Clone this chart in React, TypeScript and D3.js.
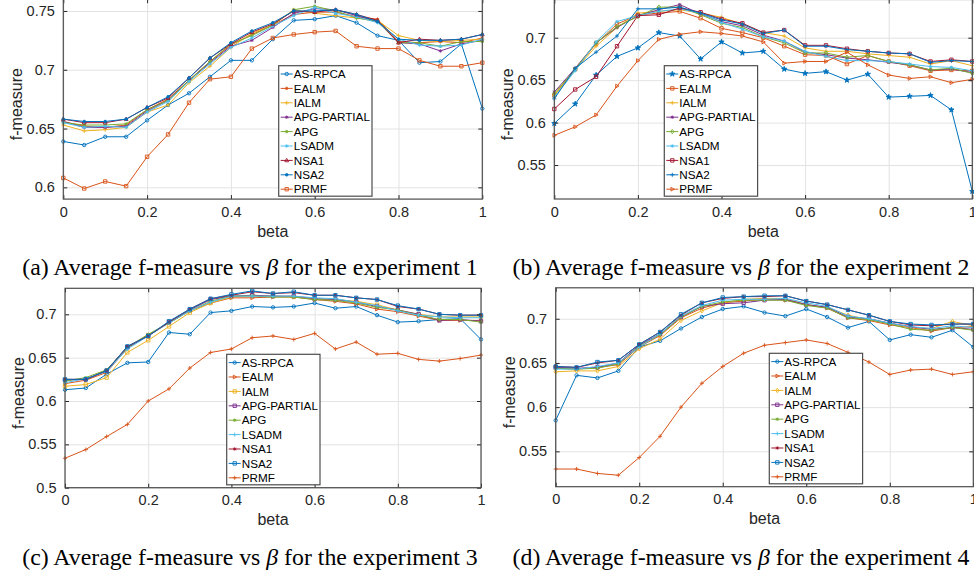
import { useEffect, useRef } from "react";
import * as d3 from "d3";

// beta values on the x axis
const BETA = [0, 0.05, 0.1, 0.15, 0.2, 0.25, 0.3, 0.35, 0.4, 0.45, 0.5, 0.55, 0.6, 0.65, 0.7, 0.75, 0.8, 0.85, 0.9, 0.95, 1];
const X_TICKS = [0, 0.2, 0.4, 0.6, 0.8, 1];

const METHODS = ["AS-RPCA", "EALM", "IALM", "APG-PARTIAL", "APG", "LSADM", "NSA1", "NSA2", "PRMF"];
const COLORS = ["#0072BD", "#D95319", "#EDB120", "#7E2F8E", "#77AC30", "#4DBEEE", "#A2142F", "#0072BD", "#D95319"];

// rows follow METHODS order
const EXP1 = [
  [0.639, 0.636, 0.643, 0.643, 0.657, 0.670, 0.680, 0.694, 0.708, 0.708, 0.726, 0.742, 0.743, 0.746, 0.740, 0.729, 0.725, 0.706, 0.707, 0.722, 0.667],
  [0.656, 0.652, 0.651, 0.653, 0.666, 0.675, 0.691, 0.707, 0.721, 0.730, 0.738, 0.747, 0.749, 0.749, 0.745, 0.743, 0.724, 0.723, 0.724, 0.723, 0.727],
  [0.653, 0.648, 0.649, 0.651, 0.664, 0.670, 0.689, 0.703, 0.719, 0.731, 0.738, 0.751, 0.748, 0.746, 0.744, 0.742, 0.729, 0.725, 0.724, 0.725, 0.726],
  [0.656, 0.651, 0.651, 0.652, 0.665, 0.674, 0.691, 0.706, 0.720, 0.725, 0.736, 0.748, 0.752, 0.751, 0.746, 0.741, 0.723, 0.722, 0.716, 0.722, 0.725],
  [0.655, 0.653, 0.653, 0.654, 0.666, 0.674, 0.691, 0.707, 0.722, 0.729, 0.738, 0.751, 0.754, 0.750, 0.744, 0.741, 0.723, 0.723, 0.720, 0.724, 0.724],
  [0.655, 0.651, 0.652, 0.651, 0.664, 0.673, 0.690, 0.705, 0.719, 0.727, 0.737, 0.746, 0.753, 0.748, 0.745, 0.740, 0.726, 0.721, 0.720, 0.721, 0.726],
  [0.658, 0.655, 0.655, 0.658, 0.668, 0.676, 0.693, 0.710, 0.722, 0.732, 0.739, 0.750, 0.749, 0.751, 0.747, 0.742, 0.723, 0.726, 0.725, 0.726, 0.730],
  [0.658, 0.656, 0.656, 0.658, 0.668, 0.677, 0.693, 0.710, 0.723, 0.733, 0.740, 0.750, 0.750, 0.751, 0.747, 0.741, 0.726, 0.725, 0.725, 0.726, 0.730],
  [0.608, 0.599, 0.605, 0.601, 0.626, 0.645, 0.672, 0.692, 0.694, 0.718, 0.727, 0.730, 0.732, 0.733, 0.720, 0.718, 0.718, 0.708, 0.703, 0.703, 0.706],
];

const EXP2 = [
  [0.599, 0.622, 0.656, 0.678, 0.688, 0.706, 0.702, 0.675, 0.695, 0.682, 0.684, 0.663, 0.658, 0.660, 0.650, 0.657, 0.630, 0.631, 0.632, 0.615, 0.519],
  [0.632, 0.663, 0.693, 0.716, 0.727, 0.729, 0.731, 0.723, 0.711, 0.706, 0.700, 0.690, 0.680, 0.679, 0.669, 0.679, 0.672, 0.667, 0.661, 0.662, 0.661],
  [0.632, 0.662, 0.690, 0.712, 0.729, 0.731, 0.733, 0.729, 0.724, 0.716, 0.706, 0.702, 0.688, 0.684, 0.684, 0.681, 0.679, 0.677, 0.669, 0.673, 0.667],
  [0.636, 0.664, 0.694, 0.712, 0.726, 0.733, 0.739, 0.728, 0.719, 0.714, 0.703, 0.696, 0.683, 0.680, 0.676, 0.674, 0.671, 0.668, 0.662, 0.663, 0.659],
  [0.634, 0.663, 0.694, 0.713, 0.725, 0.736, 0.736, 0.727, 0.717, 0.712, 0.701, 0.694, 0.682, 0.682, 0.677, 0.679, 0.672, 0.668, 0.662, 0.664, 0.658],
  [0.630, 0.661, 0.695, 0.719, 0.726, 0.731, 0.734, 0.729, 0.718, 0.710, 0.701, 0.696, 0.684, 0.678, 0.673, 0.673, 0.672, 0.669, 0.666, 0.665, 0.661],
  [0.616, 0.639, 0.654, 0.690, 0.726, 0.727, 0.735, 0.730, 0.722, 0.717, 0.706, 0.709, 0.691, 0.691, 0.687, 0.684, 0.682, 0.681, 0.672, 0.674, 0.672],
  [0.628, 0.664, 0.683, 0.702, 0.734, 0.734, 0.736, 0.729, 0.721, 0.716, 0.705, 0.709, 0.690, 0.690, 0.686, 0.684, 0.682, 0.681, 0.671, 0.673, 0.672],
  [0.585, 0.595, 0.609, 0.643, 0.673, 0.698, 0.704, 0.707, 0.705, 0.702, 0.695, 0.670, 0.672, 0.672, 0.683, 0.668, 0.656, 0.652, 0.654, 0.647, 0.651],
];

const EXP3 = [
  [0.613, 0.615, 0.631, 0.644, 0.645, 0.679, 0.677, 0.702, 0.704, 0.709, 0.708, 0.709, 0.713, 0.707, 0.709, 0.699, 0.691, 0.692, 0.694, 0.695, 0.671],
  [0.620, 0.624, 0.633, 0.661, 0.676, 0.690, 0.704, 0.713, 0.719, 0.719, 0.720, 0.720, 0.717, 0.715, 0.712, 0.706, 0.703, 0.698, 0.693, 0.693, 0.693],
  [0.617, 0.619, 0.627, 0.656, 0.670, 0.686, 0.702, 0.713, 0.720, 0.722, 0.721, 0.720, 0.718, 0.717, 0.715, 0.711, 0.705, 0.700, 0.697, 0.697, 0.697],
  [0.624, 0.625, 0.635, 0.662, 0.675, 0.691, 0.705, 0.717, 0.721, 0.722, 0.721, 0.721, 0.718, 0.717, 0.714, 0.709, 0.705, 0.700, 0.693, 0.694, 0.692],
  [0.623, 0.627, 0.636, 0.662, 0.677, 0.690, 0.704, 0.715, 0.721, 0.721, 0.720, 0.720, 0.717, 0.716, 0.713, 0.708, 0.705, 0.699, 0.694, 0.694, 0.691],
  [0.621, 0.626, 0.634, 0.660, 0.675, 0.690, 0.704, 0.714, 0.721, 0.721, 0.721, 0.721, 0.719, 0.718, 0.714, 0.710, 0.704, 0.699, 0.697, 0.696, 0.696],
  [0.625, 0.625, 0.635, 0.663, 0.675, 0.691, 0.706, 0.718, 0.722, 0.726, 0.724, 0.725, 0.722, 0.722, 0.719, 0.717, 0.709, 0.706, 0.700, 0.699, 0.699],
  [0.625, 0.625, 0.635, 0.663, 0.675, 0.692, 0.706, 0.718, 0.723, 0.727, 0.724, 0.726, 0.722, 0.722, 0.719, 0.717, 0.710, 0.706, 0.700, 0.699, 0.699],
  [0.534, 0.544, 0.559, 0.573, 0.600, 0.614, 0.638, 0.656, 0.660, 0.673, 0.675, 0.671, 0.678, 0.660, 0.668, 0.654, 0.655, 0.648, 0.646, 0.649, 0.653],
];

const EXP4 = [
  [0.585, 0.636, 0.633, 0.641, 0.668, 0.675, 0.689, 0.702, 0.711, 0.714, 0.707, 0.703, 0.711, 0.702, 0.690, 0.697, 0.676, 0.682, 0.679, 0.687, 0.668],
  [0.644, 0.643, 0.645, 0.648, 0.668, 0.681, 0.701, 0.712, 0.718, 0.720, 0.722, 0.721, 0.716, 0.712, 0.701, 0.698, 0.693, 0.690, 0.686, 0.690, 0.691],
  [0.640, 0.641, 0.641, 0.646, 0.666, 0.677, 0.698, 0.709, 0.718, 0.722, 0.723, 0.723, 0.716, 0.713, 0.704, 0.699, 0.695, 0.690, 0.689, 0.697, 0.692],
  [0.645, 0.644, 0.645, 0.650, 0.670, 0.683, 0.702, 0.714, 0.717, 0.718, 0.721, 0.722, 0.716, 0.713, 0.702, 0.700, 0.695, 0.691, 0.688, 0.690, 0.688],
  [0.644, 0.643, 0.644, 0.649, 0.669, 0.682, 0.702, 0.714, 0.719, 0.721, 0.721, 0.721, 0.715, 0.712, 0.701, 0.699, 0.694, 0.688, 0.687, 0.690, 0.687],
  [0.643, 0.643, 0.646, 0.650, 0.668, 0.683, 0.703, 0.715, 0.721, 0.722, 0.722, 0.723, 0.718, 0.714, 0.703, 0.700, 0.695, 0.691, 0.689, 0.692, 0.690],
  [0.646, 0.645, 0.650, 0.653, 0.671, 0.685, 0.704, 0.718, 0.723, 0.725, 0.725, 0.726, 0.720, 0.716, 0.710, 0.704, 0.697, 0.693, 0.692, 0.694, 0.694],
  [0.646, 0.645, 0.651, 0.653, 0.671, 0.685, 0.705, 0.718, 0.724, 0.725, 0.726, 0.726, 0.720, 0.716, 0.710, 0.704, 0.697, 0.694, 0.693, 0.694, 0.694],
  [0.530, 0.530, 0.525, 0.523, 0.543, 0.567, 0.600, 0.627, 0.646, 0.661, 0.670, 0.673, 0.676, 0.672, 0.662, 0.651, 0.637, 0.642, 0.643, 0.637, 0.640],
];

const Y_TICKS_1 = [0.6, 0.65, 0.7, 0.75];
const Y_TICKS_2 = [0.55, 0.6, 0.65, 0.7];
const Y_TICKS_3 = [0.5, 0.55, 0.6, 0.65, 0.7];
const Y_TICKS_4 = [0.55, 0.6, 0.65, 0.7];

const FONT = "'Liberation Sans', Arial, Helvetica, sans-serif";
const SERIF = "'Liberation Serif', 'Times New Roman', Times, serif";
const AXIS_COLOR = "#262626";
const GRID_COLOR = "#e3e3e3";

const PANELS = [
  {
    id: "a", data: EXP1, yDomain: [0.59, 0.76], yTicks: Y_TICKS_1, exp: 1,
    box: { left: 63.3, right: 482.3, top: -0.8, bottom: 199.1 },
    legend: { x: 278.7, y: 65.7 }, caption: { x: 250, y: 275 },
    markers: ["o", "*", "+", "*", "*", "*", "^", ".", "s"],
  },
  {
    id: "b", data: EXP2, yDomain: [0.51, 0.745], yTicks: Y_TICKS_2, exp: 2,
    box: { left: 554.3, right: 972.3, top: -0.5, bottom: 199 },
    legend: { x: 664.3, y: 65.7 }, caption: { x: 741, y: 275 },
    markers: ["p", "s", "+", "*", "d", "*", "s", "+", ">"],
  },
  {
    id: "c", data: EXP3, yDomain: [0.5, 0.73], yTicks: Y_TICKS_3, exp: 3,
    box: { left: 65, right: 481, top: 288.3, bottom: 487.7 },
    legend: { x: 226.7, y: 354.3 }, caption: { x: 250, y: 564.5 },
    markers: ["o", ">", "s", "s", "*", "+", "*", "s", "+"],
  },
  {
    id: "d", data: EXP4, yDomain: [0.51, 0.735], yTicks: Y_TICKS_4, exp: 4,
    box: { left: 555.7, right: 973.3, top: 287.8, bottom: 486.7 },
    legend: { x: 769.3, y: 353.3 }, caption: { x: 741, y: 564.5 },
    markers: ["o", ">", "d", "s", "*", "+", "*", "s", "+"],
  },
];

function markerPath(kind: string, r: number): string {
  const k = r * 0.72;
  switch (kind) {
    case "o":
    case ".":
      return `M${r},0A${r},${r} 0 1,1 ${-r},0A${r},${r} 0 1,1 ${r},0Z`;
    case "s":
      return `M${-r},${-r}H${r}V${r}H${-r}Z`;
    case "d":
      return `M0,${-r * 1.3}L${r},0L0,${r * 1.3}L${-r},0Z`;
    case "^":
      return `M0,${-r * 1.2}L${r * 1.1},${r * 0.8}L${-r * 1.1},${r * 0.8}Z`;
    case ">":
      return `M${r * 1.2},0L${-r * 0.8},${r * 1.1}L${-r * 0.8},${-r * 1.1}Z`;
    case "+":
      return `M${-r * 1.2},0H${r * 1.2}M0,${-r * 1.2}V${r * 1.2}`;
    case "*":
      return `M${-r},0H${r}M0,${-r}V${r}M${-k},${-k}L${k},${k}M${-k},${k}L${k},${-k}`;
    case "p":
      return d3.symbol().type(d3.symbolStar).size(r * r * 3)() || "";
    default:
      return "";
  }
}

function drawMarker(g: any, kind: string, cx: number, cy: number, color: string) {
  const r = kind === "." ? 1.3 : 1.7;
  g.append("path")
    .attr("d", markerPath(kind, r))
    .attr("transform", `translate(${cx},${cy})`)
    .attr("fill", kind === "." || kind === "p" ? color : "none")
    .attr("stroke", color)
    .attr("stroke-width", 0.9);
}

function drawPanel(svg: any, p: any) {
  const { left, right, top, bottom } = p.box;
  const x = d3.scaleLinear().domain([0, 1]).range([left, right]);
  const y = d3.scaleLinear().domain(p.yDomain).range([bottom, top]);
  const g = svg.append("g");

  // grid
  g.append("g")
    .attr("transform", `translate(0,${bottom})`)
    .call(d3.axisBottom(x).tickValues(X_TICKS).tickSize(-(bottom - top)).tickFormat(() => ""))
    .call((s: any) => s.select(".domain").remove())
    .call((s: any) => s.selectAll("line").attr("stroke", GRID_COLOR));
  g.append("g")
    .attr("transform", `translate(${left},0)`)
    .call(d3.axisLeft(y).tickValues(p.yTicks).tickSize(-(right - left)).tickFormat(() => ""))
    .call((s: any) => s.select(".domain").remove())
    .call((s: any) => s.selectAll("line").attr("stroke", GRID_COLOR));

  // data
  const clipId = `clip-${p.id}`;
  svg.append("defs").append("clipPath").attr("id", clipId)
    .append("rect").attr("x", left - 3).attr("y", top - 3)
    .attr("width", right - left + 6).attr("height", bottom - top + 6);

  const line = d3.line<number>().x((_d, i) => x(BETA[i])).y((d) => y(d));
  const plot = g.append("g").attr("clip-path", `url(#${clipId})`);
  p.data.forEach((vals: number[], si: number) => {
    const sg = plot.append("g");
    sg.append("path")
      .attr("d", line(vals))
      .attr("fill", "none")
      .attr("stroke", COLORS[si])
      .attr("stroke-width", 1);
    vals.forEach((v, i) => drawMarker(sg, p.markers[si], x(BETA[i]), y(v), COLORS[si]));
  });

  // axes with inward ticks
  const styleAxis = (s: any) => {
    s.select(".domain").remove();
    s.selectAll("line").attr("stroke", AXIS_COLOR);
    s.selectAll("text").attr("fill", AXIS_COLOR).attr("font-family", FONT).attr("font-size", 14.5);
    s.attr("font-family", null).attr("font-size", null);
  };
  g.append("g").attr("transform", `translate(0,${bottom})`)
    .call(d3.axisBottom(x).tickValues(X_TICKS).tickSize(-4).tickPadding(7.4).tickFormat((d: any) => String(d)))
    .call(styleAxis);
  g.append("g").attr("transform", `translate(0,${top})`)
    .call(d3.axisTop(x).tickValues(X_TICKS).tickSize(-4).tickFormat(() => ""))
    .call(styleAxis);
  g.append("g").attr("transform", `translate(${left},0)`)
    .call(d3.axisLeft(y).tickValues(p.yTicks).tickSize(-4).tickPadding(8.5).tickFormat((d: any) => String(d)))
    .call(styleAxis);
  g.append("g").attr("transform", `translate(${right},0)`)
    .call(d3.axisRight(y).tickValues(p.yTicks).tickSize(-4).tickFormat(() => ""))
    .call(styleAxis);

  g.append("rect")
    .attr("x", left).attr("y", top)
    .attr("width", right - left).attr("height", bottom - top)
    .attr("fill", "none").attr("stroke", "#4d4d4d").attr("stroke-width", 1.2);

  // axis labels
  g.append("text")
    .attr("x", (left + right) / 2).attr("y", bottom + 37.5)
    .attr("text-anchor", "middle").attr("font-family", FONT).attr("font-size", 16)
    .attr("fill", AXIS_COLOR).text("beta");
  g.append("text")
    .attr("transform", `translate(${left - 41},${(top + bottom) / 2 + 5}) rotate(-90)`)
    .attr("text-anchor", "middle").attr("font-family", FONT).attr("font-size", 16)
    .attr("fill", AXIS_COLOR).text("f-measure");

  // legend
  const lg = g.append("g").attr("transform", `translate(${p.legend.x},${p.legend.y})`);
  lg.append("rect").attr("width", 93.3).attr("height", 130.5)
    .attr("fill", "#fff").attr("stroke", "#4d4d4d").attr("stroke-width", 1.2);
  METHODS.forEach((name, i) => {
    const cy = 8.3 + i * 14.4;
    lg.append("line").attr("x1", 2).attr("x2", 14).attr("y1", cy).attr("y2", cy)
      .attr("stroke", COLORS[i]).attr("stroke-width", 1);
    drawMarker(lg, p.markers[i], 8, cy, COLORS[i]);
    lg.append("text").attr("x", 15).attr("y", cy + 4.2)
      .attr("font-family", FONT).attr("font-size", 11.7).attr("fill", "#000").text(name);
  });

  // caption
  const cap = g.append("text")
    .attr("x", p.caption.x).attr("y", p.caption.y)
    .attr("text-anchor", "middle").attr("font-family", SERIF).attr("font-size", 23.8).attr("fill", "#000");
  cap.append("tspan").text(`(${p.id}) Average f-measure vs `);
  cap.append("tspan").attr("font-style", "italic").text("β");
  cap.append("tspan").text(` for the experiment ${p.exp}`);
}

export default function App() {
  const ref = useRef<SVGSVGElement>(null);

  useEffect(() => {
    const node = ref.current;
    if (!node) return;
    const svg = d3.select(node);
    svg.selectAll("*").remove();
    PANELS.forEach((p) => drawPanel(svg, p));
  }, []);

  return (
    <svg
      ref={ref}
      width={974}
      height={575}
      style={{ position: "absolute", left: 0, top: 0, background: "#fff" }}
    />
  );
}
